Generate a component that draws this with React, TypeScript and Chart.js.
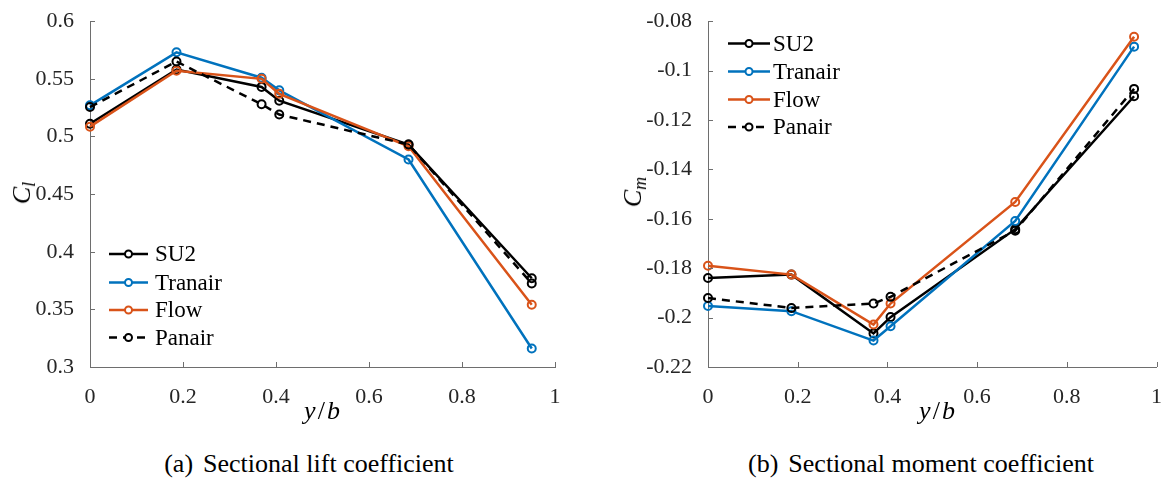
import React, { useEffect, useRef } from "react";
import { Chart, registerables } from "chart.js";

Chart.register(...registerables);

// ---------- data ----------
const seriesNames = ["SU2", "Tranair", "Flow", "Panair"];
const seriesColors = ["#000000", "#0072BD", "#D95319", "#000000"];
const seriesDash: number[][] = [[], [], [], [8, 6]];

const stations = [0, 0.186, 0.369, 0.407, 0.685, 0.95];

const clSU2 = [0.511, 0.558, 0.543, 0.531, 0.493, 0.377];
const clTranair = [0.527, 0.573, 0.551, 0.54, 0.48, 0.316];
const clFlow = [0.5085, 0.557, 0.55, 0.537, 0.4915, 0.354];
const clPanair = [0.5255, 0.565, 0.528, 0.519, 0.493, 0.3725];

const cmSU2 = [-0.184, -0.1826, -0.2064, -0.1998, -0.1642, -0.1104];
const cmTranair = [-0.1953, -0.1974, -0.2093, -0.2035, -0.1609, -0.0903];
const cmFlow = [-0.179, -0.1826, -0.2028, -0.1943, -0.1532, -0.0863];
const cmPanair = [-0.1921, -0.1961, -0.1943, -0.1916, -0.1648, -0.1074];

const xTickLabels = ["0", "0.2", "0.4", "0.6", "0.8", "1"];
const clTickLabels = ["0.3", "0.35", "0.4", "0.45", "0.5", "0.55", "0.6"];
const cmTickLabels = ["-0.22", "-0.2", "-0.18", "-0.16", "-0.14", "-0.12", "-0.1", "-0.08"];

// ---------- style ----------
const FONT = "'Liberation Serif', 'DejaVu Serif', serif";
const AXIS_COLOR = "#6e6e6e";
const TICK_TEXT = "#262626";

const inwardTicks = {
  id: "inwardTicks",
  afterDatasetsDraw(chart: any) {
    const { ctx, chartArea } = chart;
    const xs = chart.scales.x;
    const ys = chart.scales.y;
    ctx.save();
    ctx.strokeStyle = AXIS_COLOR;
    ctx.lineWidth = 1;
    ctx.beginPath();
    xs.ticks.forEach((t: any) => {
      const px = Math.round(xs.getPixelForValue(t.value)) + 0.5;
      ctx.moveTo(px, chartArea.bottom);
      ctx.lineTo(px, chartArea.bottom - 5);
    });
    ys.ticks.forEach((t: any) => {
      const py = Math.round(ys.getPixelForValue(t.value)) + 0.5;
      ctx.moveTo(chartArea.left, py);
      ctx.lineTo(chartArea.left + 5, py);
    });
    ctx.stroke();
    ctx.restore();
  },
};

const insideLegend = {
  id: "insideLegend",
  afterDatasetsDraw(chart: any, _args: any, opts: any) {
    const { ctx } = chart;
    ctx.save();
    chart.data.datasets.forEach((ds: any, i: number) => {
      const y = opts.rows[i];
      ctx.strokeStyle = ds.borderColor;
      ctx.lineWidth = ds.borderWidth;
      ctx.setLineDash(ds.borderDash || []);
      ctx.beginPath();
      ctx.moveTo(opts.x0, y);
      ctx.lineTo(opts.x1, y);
      ctx.stroke();
      ctx.setLineDash([]);
      const cx = (opts.x0 + opts.x1) / 2;
      ctx.beginPath();
      ctx.arc(cx, y, 3.5, 0, Math.PI * 2);
      ctx.fillStyle = "#ffffff";
      ctx.fill();
      ctx.lineWidth = 2;
      ctx.stroke();
      ctx.fillStyle = "#000000";
      ctx.font = `23px ${FONT}`;
      ctx.textBaseline = "middle";
      ctx.textAlign = "left";
      ctx.fillText(ds.label, opts.textX, y + 1);
    });
    ctx.restore();
  },
};

function makeDatasets(values: number[][]) {
  return values.map((vals, i) => ({
    label: seriesNames[i],
    data: stations.map((x, j) => ({ x, y: vals[j] })),
    borderColor: seriesColors[i],
    borderWidth: 2.5,
    borderDash: seriesDash[i],
    pointStyle: "circle",
    pointRadius: 4,
    pointBorderWidth: 2,
    pointBackgroundColor: "rgba(0,0,0,0)",
    pointBorderColor: seriesColors[i],
    tension: 0,
    clip: false as any,
    order: 3 - i,
  }));
}

function buildConfig(
  values: number[][],
  yMin: number,
  yMax: number,
  yStep: number,
  yLabels: string[],
  yWidth: number,
  padRight: number,
  legend: any
): any {
  return {
    type: "line",
    data: { datasets: makeDatasets(values) },
    options: {
      responsive: false,
      animation: false,
      events: [],
      layout: { padding: { top: 14, right: padRight, left: 0, bottom: 0 } },
      plugins: {
        legend: { display: false },
        tooltip: { enabled: false },
        insideLegend: legend,
      },
      scales: {
        x: {
          type: "linear",
          min: 0,
          max: 1,
          grid: { display: false },
          border: { display: true, color: AXIS_COLOR, width: 1 },
          ticks: {
            stepSize: 0.2,
            autoSkip: false,
            maxRotation: 0,
            padding: 9,
            color: TICK_TEXT,
            font: { family: FONT, size: 22 },
            callback: (_v: any, i: number) => xTickLabels[i],
          },
          afterFit: (s: any) => {
            s.height = 430 - 367;
          },
        },
        y: {
          type: "linear",
          min: yMin,
          max: yMax,
          grid: { display: false },
          border: { display: true, color: AXIS_COLOR, width: 1 },
          ticks: {
            stepSize: yStep,
            autoSkip: false,
            padding: 8,
            color: TICK_TEXT,
            font: { family: FONT, size: 22 },
            callback: (_v: any, i: number) => yLabels[i],
          },
          afterFit: (s: any) => {
            s.width = yWidth;
          },
        },
      },
    },
    plugins: [inwardTicks, insideLegend],
  };
}

export default function App() {
  const leftRef = useRef<HTMLCanvasElement | null>(null);
  const rightRef = useRef<HTMLCanvasElement | null>(null);

  useEffect(() => {
    const left = new Chart(
      leftRef.current as HTMLCanvasElement,
      buildConfig(
        [clSU2, clTranair, clFlow, clPanair],
        0.3,
        0.6,
        0.05,
        clTickLabels,
        90,
        30,
        { x0: 109, x1: 148, textX: 155, rows: [254, 282.5, 310, 337.5] }
      )
    );
    const right = new Chart(
      rightRef.current as HTMLCanvasElement,
      buildConfig(
        [cmSU2, cmTranair, cmFlow, cmPanair],
        -0.22,
        -0.08,
        0.02,
        cmTickLabels,
        123,
        5,
        { x0: 728 - 585, x1: 770 - 585, textX: 773 - 585, rows: [43.5, 71.5, 99.5, 127] }
      )
    );
    return () => {
      left.destroy();
      right.destroy();
    };
  }, []);

  const serif: React.CSSProperties = { fontFamily: FONT, color: "#000" };
  const centered = (x: number, y: number, extra: React.CSSProperties = {}): React.CSSProperties => ({
    position: "absolute",
    left: x,
    top: y,
    transform: "translate(-50%, -50%)",
    whiteSpace: "nowrap",
    lineHeight: 1,
    ...serif,
    ...extra,
  });

  return (
    <div style={{ position: "absolute", left: 0, top: 0, width: 1171, height: 479, background: "#fff", overflow: "hidden" }}>
      <canvas ref={leftRef} width={585} height={430} style={{ position: "absolute", left: 0, top: 0 }} />
      <canvas ref={rightRef} width={586} height={430} style={{ position: "absolute", left: 585, top: 0 }} />

      <div style={centered(22, 193, { fontSize: 26, transform: "translate(-50%, -50%) rotate(-90deg)" })}>
        <i>C</i>
        <i style={{ fontSize: 18, position: "relative", top: 5 }}>l</i>
      </div>
      <div style={centered(633, 192, { fontSize: 26, transform: "translate(-50%, -50%) rotate(-90deg)" })}>
        <i>C</i>
        <i style={{ fontSize: 18, position: "relative", top: 5 }}>m</i>
      </div>

      <div style={centered(322, 411, { fontSize: 26 })}>
        <i>y</i>
        <span style={{ margin: "0 2px" }}>/</span>
        <i>b</i>
      </div>
      <div style={centered(937, 411, { fontSize: 26 })}>
        <i>y</i>
        <span style={{ margin: "0 2px" }}>/</span>
        <i>b</i>
      </div>

      <div style={centered(309, 464, { fontSize: 26 })}>
        (a)<span style={{ marginLeft: 10 }}>Sectional lift coefficient</span>
      </div>
      <div style={centered(921, 464, { fontSize: 26 })}>
        (b)<span style={{ marginLeft: 10 }}>Sectional moment coefficient</span>
      </div>
    </div>
  );
}
